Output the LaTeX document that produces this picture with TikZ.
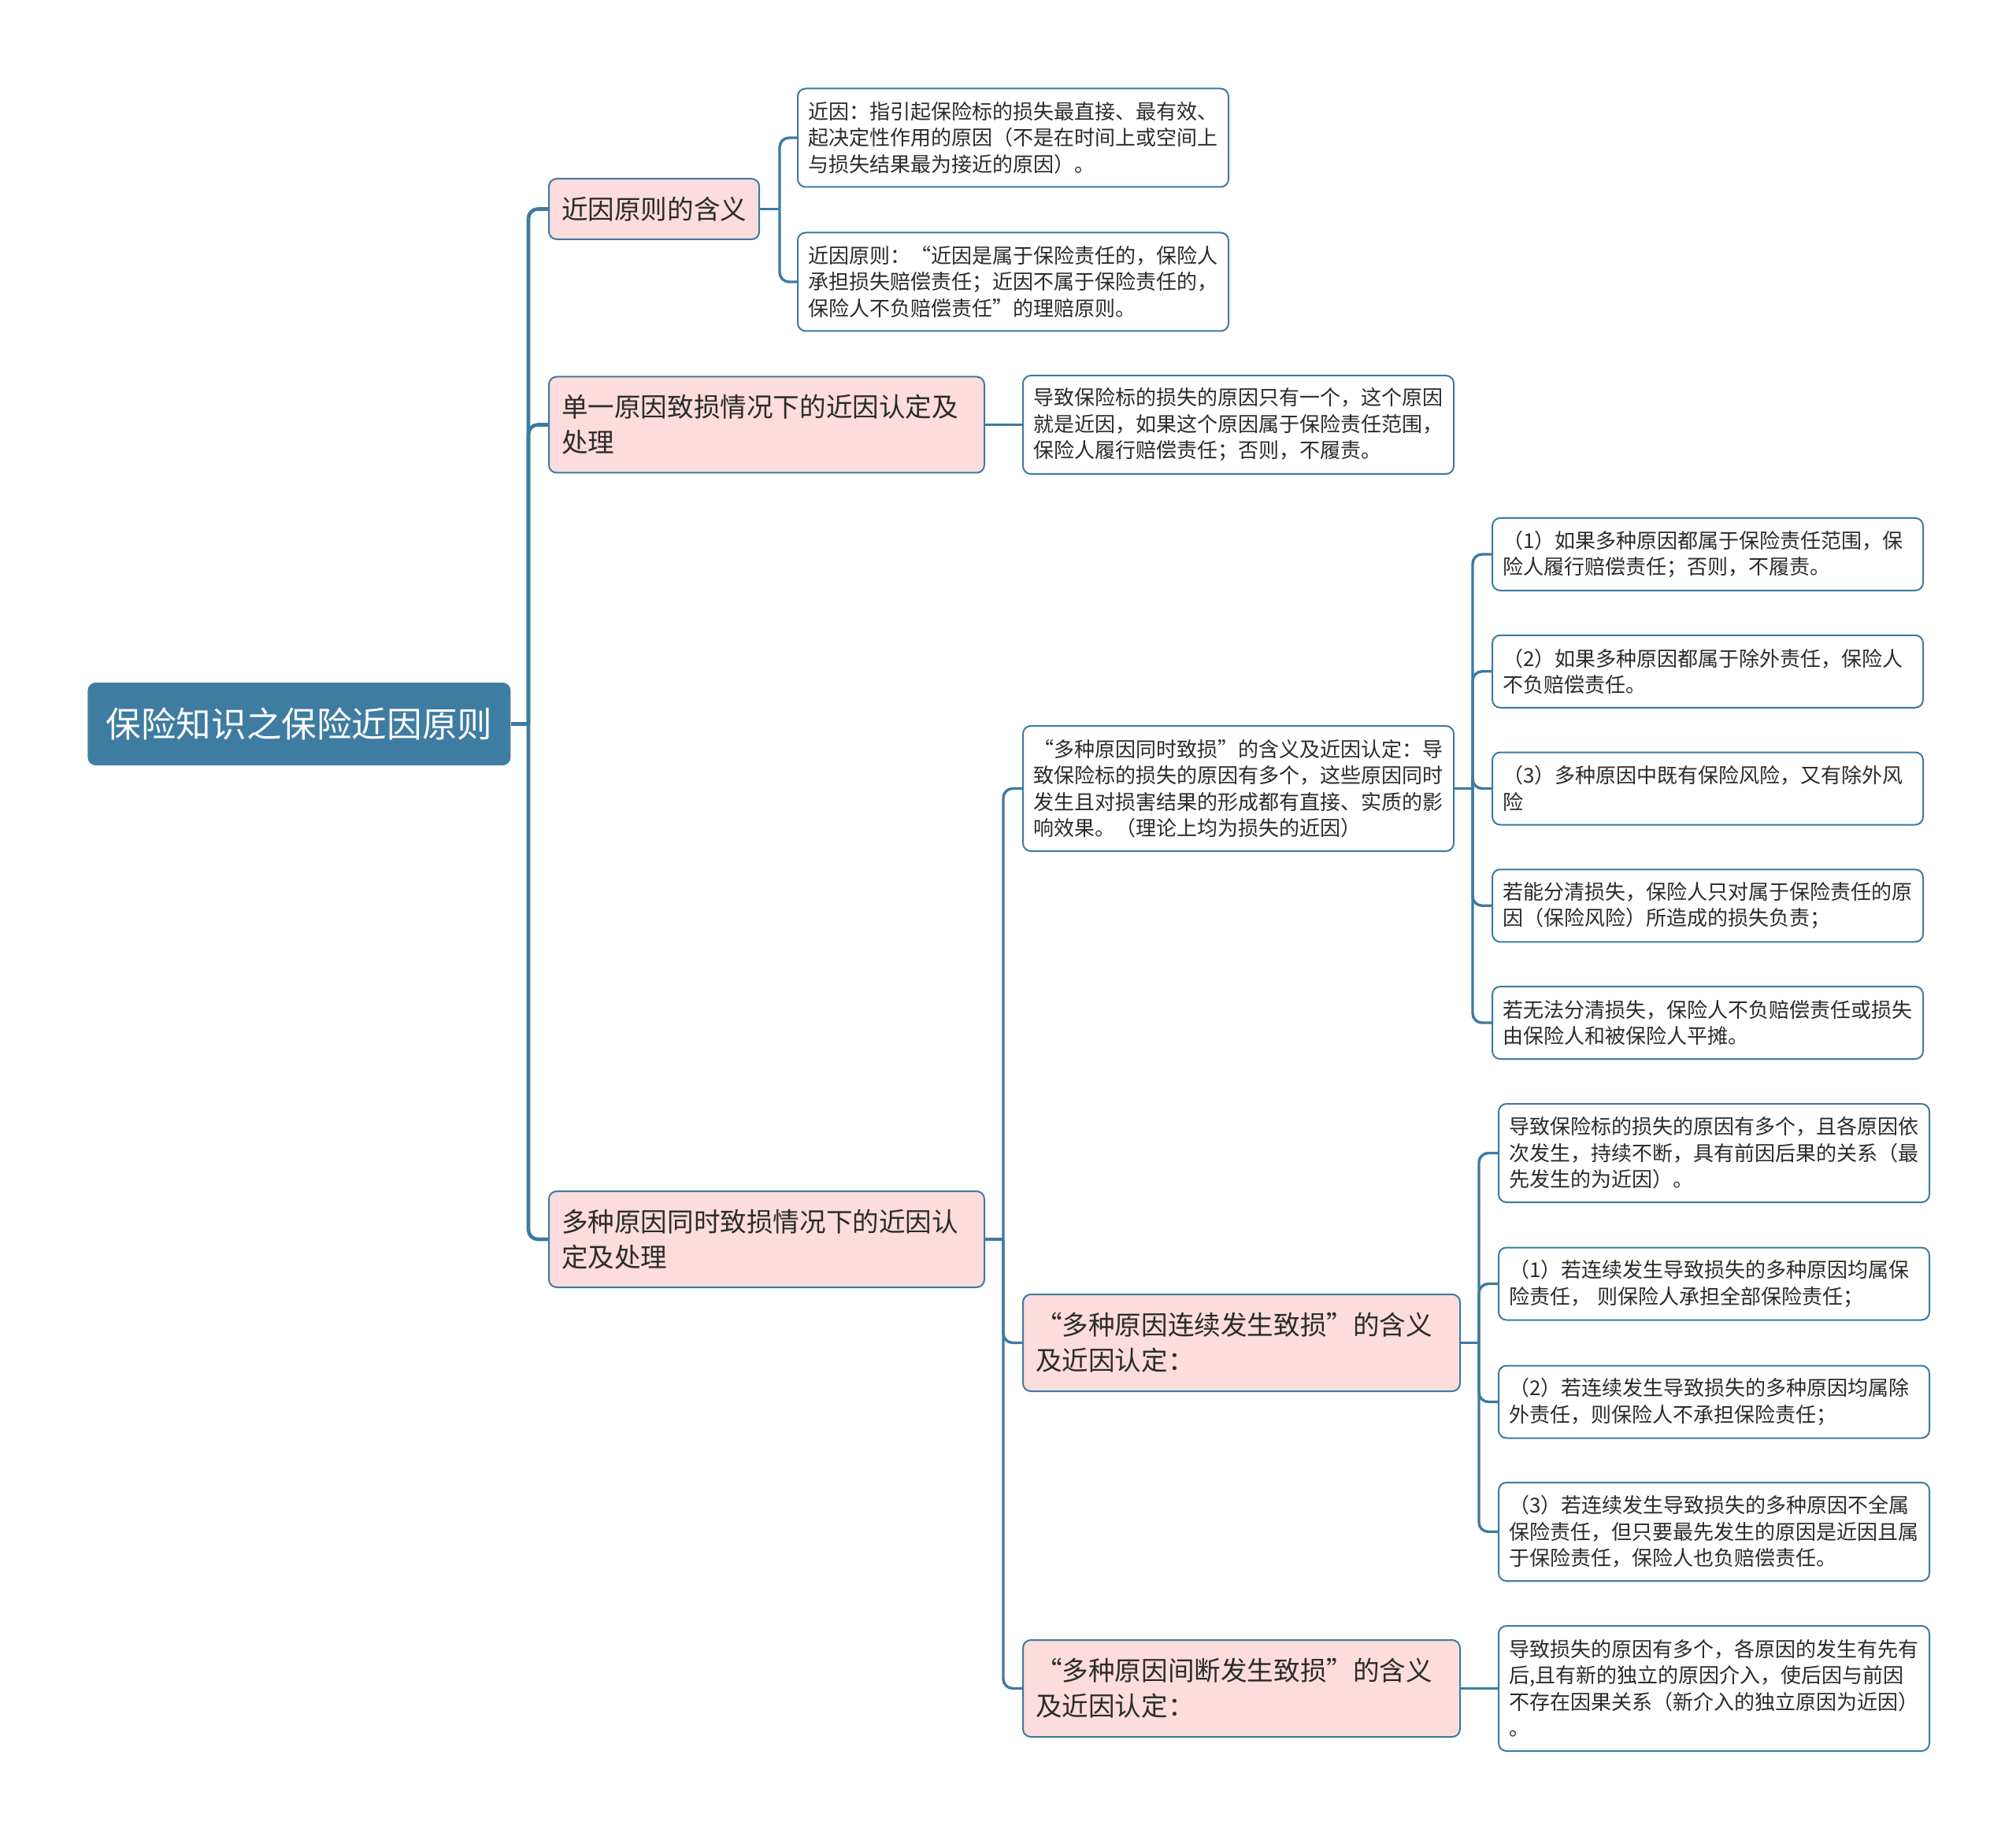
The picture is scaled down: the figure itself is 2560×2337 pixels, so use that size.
\documentclass[tikz,border=0pt]{standalone}
\usepackage{fontspec}
\setmainfont{Noto Sans CJK SC}

\definecolor{lineblue}{HTML}{3D7AA0}
\definecolor{rootblue}{HTML}{3F7CA2}
\definecolor{pinkfill}{HTML}{FCDCDC}
\definecolor{textgray}{HTML}{2B2B2B}

\begin{document}
\begin{tikzpicture}[
	x=0.5pt, y=-0.5pt,
	rootbox/.style = {fill=rootblue, rounded corners=5pt, text=white, anchor=west, inner xsep=11.5pt, minimum width=268.5pt, minimum height=52.5pt, font=\fontsize{22.3pt}{28pt}\selectfont},
	topic/.style = {draw=lineblue, line width=1pt, fill=pinkfill, rounded corners=5pt, text=textgray, anchor=west, align=left, inner xsep=8pt, font=\fontsize{16.8pt}{22.5pt}\selectfont},
	note/.style = {draw=lineblue, line width=1pt, fill=white, rounded corners=5pt, text=textgray, anchor=west, align=left, text width=260.5pt, inner xsep=6.5pt, font=\fontsize{13pt}{16.75pt}\selectfont},
	two/.style = {minimum height=46pt},
	three/.style = {minimum height=62.5pt},
	four/.style = {minimum height=79.5pt},
	conn/.style = {draw=lineblue, line width=1.7pt, rounded corners=6pt},
	trunkline/.style = {conn, line width=2.3pt}]
	
	\useasboundingbox (0,0) rectangle (2560,2337);
	
	\def \cstep {148.75} % spacing of the five boxes on the right
	
	\node[rootbox] (root) at (111,919.5) {保险知识之保险近因原则};
	
	\node[topic, minimum width=133.5pt, minimum height=38.5pt] (ka) at (696,265.5) {近因原则的含义};
	\node[topic, text width=260.5pt, minimum height=61pt] (kb) at (696,539.5) {单一原因致损情况下的近因认定及\\处理};
	\node[topic, text width=260.5pt, minimum height=61pt] (kc) at (696,1574) {多种原因同时致损情况下的近因认\\定及处理};
	
	\node[note, three] (ka1) at (1012,175) {近因：指引起保险标的损失最直接、最有效、\\起决定性作用的原因（不是在时间上或空间上\\与损失结果最为接近的原因）。};
	\node[note, three] (ka2) at (1012,358) {近因原则：“近因是属于保险责任的，保险人\\承担损失赔偿责任；近因不属于保险责任的，\\保险人不负赔偿责任”的理赔原则。};
	\node[note, three] (kb1) at (1298,539.5) {导致保险标的损失的原因只有一个，这个原因\\就是近因，如果这个原因属于保险责任范围，\\保险人履行赔偿责任；否则，不履责。};
	
	\node[note, four] (kc1) at (1298,1001.5) {“多种原因同时致损”的含义及近因认定：导\\致保险标的损失的原因有多个，这些原因同时\\发生且对损害结果的形成都有直接、实质的影\\响效果。（理论上均为损失的近因）};
	\node[topic, text width=261.5pt, minimum height=61.5pt] (kc2) at (1298,1705.5) {“多种原因连续发生致损”的含义\\及近因认定：};
	\node[topic, text width=261.5pt, minimum height=61.5pt] (kc3) at (1298,2144.5) {“多种原因间断发生致损”的含义\\及近因认定：};
	
	\foreach \i/\t in {
		1/{（1）如果多种原因都属于保险责任范围，保\\险人履行赔偿责任；否则，不履责。},
		2/{（2）如果多种原因都属于除外责任，保险人\\不负赔偿责任。},
		3/{（3）多种原因中既有保险风险，又有除外风\\险},
		4/{若能分清损失，保险人只对属于保险责任的原\\因（保险风险）所造成的损失负责；},
		5/{若无法分清损失，保险人不负赔偿责任或损失\\由保险人和被保险人平摊。}}
	{
		\node[note, two] (c1\i) at (1894,{704+\cstep*(\i-1)}) {\t};
	}
	
	\node[note, three] (c21) at (1902,1464.5) {导致保险标的损失的原因有多个，且各原因依\\次发生，持续不断，具有前因后果的关系（最\\先发生的为近因）。};
	\node[note, two] (c22) at (1902,1630.5) {（1）若连续发生导致损失的多种原因均属保\\险责任， 则保险人承担全部保险责任；};
	\node[note, two] (c23) at (1902,1780.5) {（2）若连续发生导致损失的多种原因均属除\\外责任，则保险人不承担保险责任；};
	\node[note, three] (c24) at (1902,1945.5) {（3）若连续发生导致损失的多种原因不全属\\保险责任，但只要最先发生的原因是近因且属\\于保险责任，保险人也负赔偿责任。};
	\node[note, four] (c31) at (1902,2144.5) {导致损失的原因有多个，各原因的发生有先有\\后,且有新的独立的原因介入，使后因与前因\\不存在因果关系（新介入的独立原因为近因）\\。};
	
	% connectors
	\coordinate (trunk) at (671,919.5);
	\draw[trunkline] (root.east) -- (trunk);
	\foreach \n in {ka,kb,kc}
		\draw[trunkline] (trunk) |- (\n.west);
	
	\coordinate (abus) at (990,265.5);
	\draw[conn] (ka.east) -- (abus);
	\foreach \n in {ka1,ka2}
		\draw[conn] (abus) |- (\n.west);
	
	\draw[conn] (kb.east) -- (kb1.west);
	
	\coordinate (cbus) at (1274,1574);
	\draw[conn] (kc.east) -- (cbus);
	\foreach \n in {kc1,kc2,kc3}
		\draw[conn] (cbus) |- (\n.west);
	
	\coordinate (c1bus) at (1870,1001.5);
	\draw[conn] (kc1.east) -- (c1bus);
	\foreach \i in {1,...,5}
		\draw[conn] (c1bus) |- (c1\i.west);
	
	\coordinate (c2bus) at (1878,1705.5);
	\draw[conn] (kc2.east) -- (c2bus);
	\foreach \n in {c21,c22,c23,c24}
		\draw[conn] (c2bus) |- (\n.west);
	
	\draw[conn] (kc3.east) -- (c31.west);
\end{tikzpicture}
\end{document}
